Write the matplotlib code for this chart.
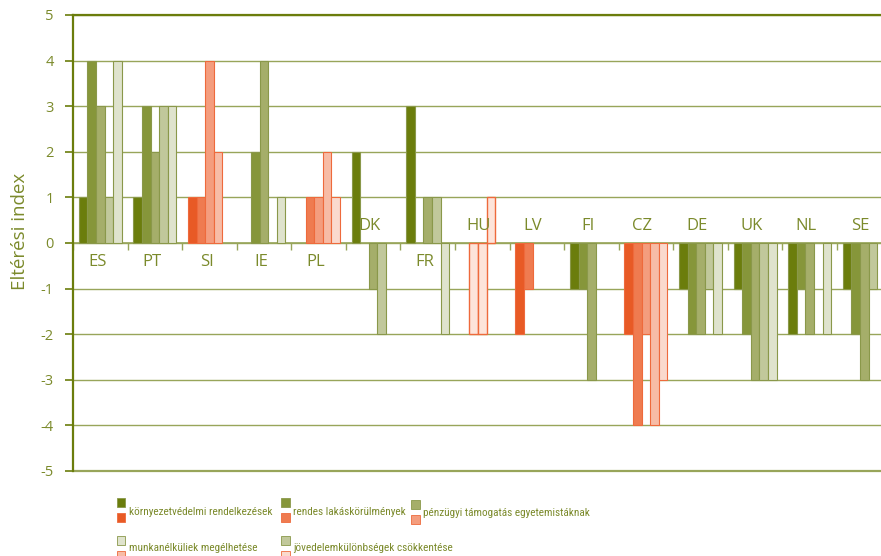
import matplotlib
matplotlib.use("Agg")
import matplotlib.pyplot as plt
from matplotlib.patches import Rectangle
from matplotlib.ticker import FixedLocator, FuncFormatter
from matplotlib import font_manager
import numpy as np

plt.rcParams['font.family'] = ['Open Sans', 'DejaVu Sans']
plt.rcParams['axes.unicode_minus'] = False

# ---- data ----
countries = ['ES', 'PT', 'SI', 'IE', 'PL', 'DK', 'FR', 'HU', 'LV', 'FI', 'CZ', 'DE', 'UK', 'NL', 'SE']
highlighted = ['SI', 'PL', 'HU', 'LV', 'CZ']
special = ['HU']

env_rules = [1, 1, 1, 0, 0, 2, 3, 0, -2, -1, -2, -1, -1, -2, -1]
housing = [4, 3, 1, 2, 1, 0, 0, -2, -1, -1, -4, -2, -2, -1, -2]
student_support = [3, 2, 4, 4, 1, -1, 1, -2, 0, -3, -2, -2, -3, -2, -3]
income_gap = [1, 3, 2, 0, 2, -2, 1, 1, 0, 0, -4, -1, -3, 0, -1]
unemployed = [4, 3, 0, 1, 1, 0, -2, 0, 0, 0, -3, -2, -3, -2, 0]

series_in_bar_order = [env_rules, housing, student_support, income_gap, unemployed]

legend_labels = ['környezetvédelmi rendelkezések', 'rendes lakáskörülmények',
                 'pénzügyi támogatás egyetemistáknak', 'munkanélküliek megélhetése',
                 'jövedelemkülönbségek csökkentése']

y_label = 'Eltérési index'

# ---- styles ----
greens = ['#6b7d0c', '#86963a', '#a5ae6a', '#c1c89b', '#dfe3cd']
oranges = ['#e85a25', '#ef7b50', '#f49d7e', '#f7bca6', '#fad9cd']
green_edge = '#8a984a'
orange_edge = '#ee6a3c'
text_col = '#7b8a2b'
axis_col = '#6b7d0c'
grid_col = '#98a55a'

legend_green = [greens[0], greens[1], greens[2], greens[4], greens[3]]
legend_orange = [oranges[0], oranges[1], oranges[2], oranges[3], oranges[4]]

W, H = 881, 556
fig = plt.figure(figsize=(W / 100, H / 100), dpi=100)
ax = fig.add_axes([73 / W, 1 - 471 / H, (W - 73) / W, (471 - 15) / H])

x = np.arange(len(countries))
bw = 0.1576
n = len(series_in_bar_order)

for j, vals in enumerate(series_in_bar_order):
    vals = np.array(vals, dtype=float)
    for i, c in enumerate(countries):
        if vals[i] == 0:
            continue
        if c in special:
            fc, ec, lw = '#fde4da', orange_edge, 1.0
        elif c in highlighted:
            fc, ec, lw = oranges[j], orange_edge, 0.8
        else:
            fc, ec, lw = greens[j], green_edge, 0.8
        ax.bar(x[i] + (j - (n - 1) / 2) * bw, vals[i], width=bw, color=fc,
               edgecolor=ec, linewidth=lw, zorder=3)

# country labels
for i, c in enumerate(countries):
    total = sum(s[i] for s in series_in_bar_order)
    if total > 0:
        ax.annotate(c, (x[i] - 0.05, 0), xytext=(0, -14), textcoords='offset points',
                    ha='center', va='center', fontsize=12, color=text_col, zorder=5)
    else:
        ax.annotate(c, (x[i] - 0.07, 0), xytext=(0, 12), textcoords='offset points',
                    ha='center', va='center', fontsize=12, color=text_col, zorder=5)

ax.set_xlim(-0.5, -0.5 + (W - 73) / 54.57)
ax.set_ylim(-5, 5)

ax.yaxis.set_major_locator(FixedLocator(np.arange(-5, 6)))
ax.yaxis.set_major_formatter(FuncFormatter(lambda v, p: f'{int(round(v))}'))
ax.tick_params(axis='y', direction='out', length=6, width=1.2, color=axis_col,
               labelcolor=text_col, labelsize=10.5, pad=8)
ax.yaxis.grid(True, color=grid_col, linewidth=1.0, zorder=0)
ax.set_axisbelow(True)
ax.axhline(-5, color=grid_col, linewidth=1.6, clip_on=False, zorder=1)

ax.xaxis.set_major_locator(FixedLocator(np.arange(-0.5, len(countries), 1.0)))
ax.xaxis.set_major_formatter(FuncFormatter(lambda v, p: ''))
ax.tick_params(axis='x', direction='out', length=5, width=1.0, color=grid_col)

ax.spines['bottom'].set_position(('data', 0))
ax.spines['bottom'].set_color(grid_col)
ax.spines['bottom'].set_linewidth(1.2)
ax.spines['bottom'].set_zorder(2)
ax.spines['left'].set_color(axis_col)
ax.spines['left'].set_linewidth(1.6)
ax.spines['top'].set_color(axis_col)
ax.spines['top'].set_linewidth(1.6)
ax.spines['right'].set_visible(False)

fig.text(20 / W, 1 - 231 / H, y_label, rotation=90, ha='center', va='center',
         fontsize=13.5, color=text_col)

renderer = fig.canvas.get_renderer()

# choose the narrowest installed family for the legend (reference text is condensed)
best_family, best_w = ['Open Sans', 'DejaVu Sans'], None
for cand in ['Liberation Sans Narrow', 'Roboto Condensed', 'Lato', 'Roboto', 'Liberation Sans',
             'Noto Sans', 'Open Sans']:
    try:
        font_manager.findfont(font_manager.FontProperties(family=cand), fallback_to_default=False)
    except Exception:
        continue
    t = fig.text(0, 0, legend_labels[0], fontsize=10, family=[cand, 'DejaVu Sans'])
    wdt = t.get_window_extent(renderer).width
    t.remove()
    if best_w is None or wdt < best_w:
        best_w, best_family = wdt, [cand, 'DejaVu Sans']

# manual legend
def px(xp, yp):
    return xp / W, 1 - yp / H

legend_pos = [(117, 498, 512), (281, 498, 512), (411, 500, 513), (117, 536, 548), (281, 536, 548)]
legend_texts = []
for k, lab in enumerate(legend_labels):
    sx, sy, ty = legend_pos[k]
    for off, col, ecol in [(0, legend_green[k], green_edge), (15, legend_orange[k], orange_edge)]:
        x0, y1 = px(sx, sy + off + 9)
        fig.patches.append(Rectangle((x0, y1), 8.5 / W, 9 / H, transform=fig.transFigure,
                                     facecolor=col, edgecolor=ecol, linewidth=0.6))
    tx, tyf = px(sx + 12, ty)
    legend_texts.append(fig.text(tx, tyf, lab, ha='left', va='center', fontsize=10,
                                 color=text_col, family=best_family))

w0 = legend_texts[0].get_window_extent(renderer).width
fs = 10 * 143.0 / w0
for t in legend_texts:
    t.set_fontsize(fs)

fig.savefig('out.png', dpi=100)
